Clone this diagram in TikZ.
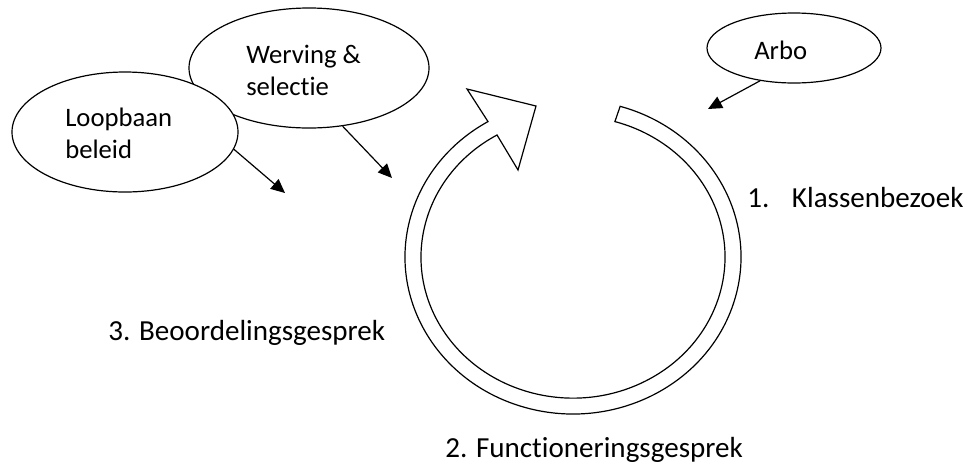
\documentclass[tikz,border=0pt]{standalone}
\usepackage{fontspec}
\setmainfont{Carlito}[Ligatures={NoCommon}]
\usetikzlibrary{shapes.geometric,arrows.meta}
\begin{document}
\begin{tikzpicture}[x=0.75pt,y=-0.75pt,
  bubble/.style={draw,ellipse,line width=0.9pt,inner sep=0pt,fill=white},
  btext/.style={inner sep=0pt,anchor=base west,align=left,font=\fontsize{20}{23.5}\selectfont},
  ltext/.style={inner sep=0pt,anchor=base west,font=\fontsize{21.8}{26}\selectfont},
  feed/.style={line width=0.9pt,-{Triangle[length=10.5pt,width=9.5pt]}},
  band/.style={draw,line width=0.9pt,line join=miter}]
\useasboundingbox (0,0) rectangle (969,465);
% ellipses
\node[bubble,minimum width=180pt,minimum height=90pt] (werv) at (309,68) {};
\node[bubble,minimum width=169.5pt,minimum height=90pt] (loop) at (125,132) {};
\node[bubble,minimum width=130.5pt,minimum height=52.5pt] (arbo) at (794,48) {};
\node[btext] (wervt) at (246,95) {Werving \&\\selectie};
\node[btext] (loopt) at (65,158) {Loopbaan\\beleid};
\node[btext] (arbot) at (754,59) {Arbo};
% free arrow ends
\coordinate (le) at (285,193);
\coordinate (we) at (392,178);
\coordinate (ae) at (708,109);
\draw[feed] (loop.-9) -- (le);
\draw[feed] (werv.-60) -- (we);
\draw[feed] (arbo.-136) -- (ae);
% circular arrow
\draw[band] (573,257) ++(-73.7:168 and 157)
  arc[start angle=-73.7, end angle=239.6, x radius=168, y radius=157]
  -- (467,89) -- (536,106) -- (518,170) -- (497,135)
  arc[start angle=240, end angle=-74, x radius=152, y radius=141] -- cycle;
% labels
\node[ltext] (l1) at (747,207) {1.\hspace{17pt}Klassenbezoek};
\node[ltext] (l2) at (445,457) {2. Functioneringsgesprek};
\node[ltext] (l3) at (108,340) {3. Beoordelingsgesprek};
\end{tikzpicture}
\end{document}
